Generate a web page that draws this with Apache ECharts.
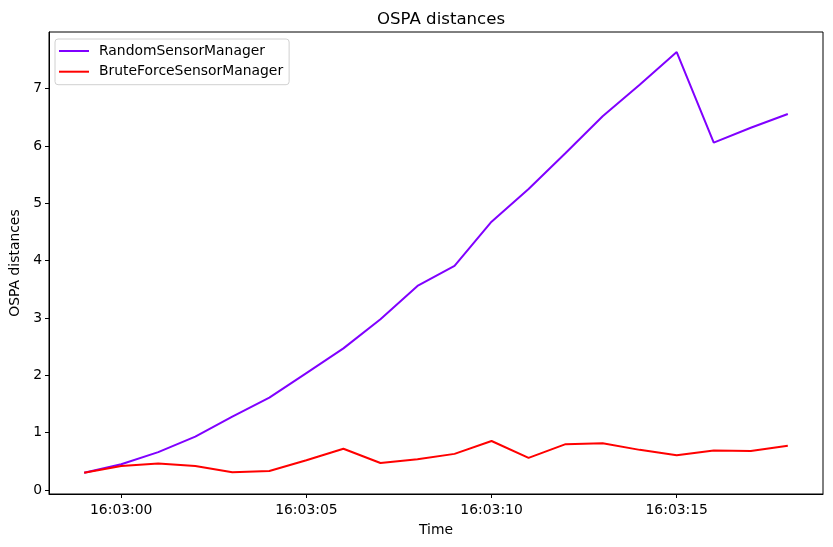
<!DOCTYPE html>
<html>
<head>
<meta charset="utf-8">
<script src="https://cdn.jsdelivr.net/npm/echarts@6/dist/echarts.min.js"></script>
<style>
  html, body { margin: 0; padding: 0; background: #fff; }
  #chart { width: 833px; height: 547px; }
</style>
</head>
<body>
<div id="chart"></div>
<script>
// timestamps (one per second)
const times = ['16:02:59', '16:03:00', '16:03:01', '16:03:02', '16:03:03', '16:03:04', '16:03:05',
  '16:03:06', '16:03:07', '16:03:08', '16:03:09', '16:03:10', '16:03:11', '16:03:12',
  '16:03:13', '16:03:14', '16:03:15', '16:03:16', '16:03:17', '16:03:18']
const randomManager = [0.30, 0.45, 0.66, 0.93, 1.28, 1.61, 2.04, 2.47, 2.98, 3.56,
  3.91, 4.68, 5.25, 5.88, 6.52, 7.07, 7.64, 6.06, 6.32, 6.56]
const bruteForceManager = [0.30, 0.42, 0.46, 0.42, 0.31, 0.33, 0.52, 0.72, 0.47, 0.535,
  0.63, 0.855, 0.56, 0.80, 0.815, 0.70, 0.605, 0.69, 0.68, 0.77]
const xTicks = ['16:03:00', '16:03:05', '16:03:10', '16:03:15']
const yTicks = [0, 1, 2, 3, 4, 5, 6, 7]

// seconds relative to 16:03:00
function toSec(t) {
  const p = t.split(':').map(Number)
  return p[0] * 3600 + p[1] * 60 + p[2] - (16 * 3600 + 3 * 60)
}
function pad(n) { return (n < 10 ? '0' : '') + n }
function fromSec(s) {
  const total = Math.round(s) + 16 * 3600 + 3 * 60
  return pad(Math.floor(total / 3600)) + ':' + pad(Math.floor(total / 60) % 60) + ':' + pad(total % 60)
}

const font = 'DejaVu Sans'
const chart = echarts.init(document.getElementById('chart'))
chart.setOption({
  animation: false,
  textStyle: { fontFamily: font },
  title: {
    text: 'OSPA distances',
    left: 436,
    top: 6,
    textAlign: 'center',
    textStyle: { fontFamily: font, fontSize: 16.6, fontWeight: 'normal', color: '#000' }
  },
  legend: {
    orient: 'vertical',
    left: 55,
    top: 39,
    padding: [5, 6, 6, 4],
    itemGap: 6.7,
    itemWidth: 30,
    itemHeight: 2,
    icon: 'rect',
    borderColor: '#d0d0d0',
    borderWidth: 1,
    borderRadius: 3,
    textStyle: { fontFamily: font, fontSize: 13.9, lineHeight: 14, color: '#000', padding: [0, 0, 0, 5] },
    data: ['RandomSensorManager', 'BruteForceSensorManager']
  },
  grid: {
    left: 49, right: 10, top: 32, bottom: 53,
    outerBoundsMode: 'none',
    show: true, borderColor: '#000', borderWidth: 1
  },
  xAxis: {
    type: 'value',
    min: -1.95,
    max: 18.95,
    name: 'Time',
    nameLocation: 'middle',
    nameGap: 29,
    nameTextStyle: { fontFamily: font, fontSize: 13.9, color: '#000' },
    splitLine: { show: false },
    axisLine: { show: true, onZero: false, lineStyle: { color: '#000', width: 1 } },
    axisTick: { show: true, length: 4, lineStyle: { color: '#000' }, customValues: xTicks.map(toSec) },
    axisLabel: {
      color: '#000', fontSize: 13.9, fontFamily: font, margin: 9,
      customValues: xTicks.map(toSec),
      formatter: v => fromSec(v)
    }
  },
  yAxis: {
    type: 'value',
    min: -0.07,
    max: 7.99,
    name: 'OSPA distances',
    nameLocation: 'middle',
    nameGap: 25,
    nameTextStyle: { fontFamily: font, fontSize: 13.9, color: '#000' },
    splitLine: { show: false },
    axisLine: { show: true, onZero: false, lineStyle: { color: '#000', width: 1 } },
    axisTick: { show: true, length: 4, lineStyle: { color: '#000' }, customValues: yTicks },
    axisLabel: { color: '#000', fontSize: 13.9, fontFamily: font, margin: 7, customValues: yTicks }
  },
  series: [
    {
      name: 'RandomSensorManager',
      type: 'line',
      symbol: 'none',
      color: '#8000ff',
      lineStyle: { width: 2, color: '#8000ff' },
      data: times.map((t, i) => [toSec(t), randomManager[i]])
    },
    {
      name: 'BruteForceSensorManager',
      type: 'line',
      symbol: 'none',
      color: '#ff0000',
      lineStyle: { width: 2, color: '#ff0000' },
      data: times.map((t, i) => [toSec(t), bruteForceManager[i]])
    }
  ]
})
</script>
</body>
</html>
